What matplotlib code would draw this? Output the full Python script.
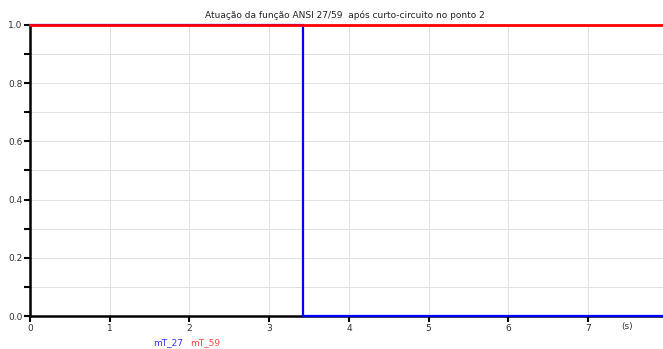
import matplotlib
matplotlib.use("Agg")
import matplotlib.pyplot as plt
from matplotlib.ticker import MultipleLocator

# Trip signals of the ANSI 27/59 functions
t_27 = [0.0, 3.425, 3.425, 8.0]
v_27 = [1.0, 1.0, 0.0, 0.0]
t_59 = [0.0, 8.0]
v_59 = [1.0, 1.0]

x_ticks = [0, 1, 2, 3, 4, 5, 6, 7]
y_ticks = [0.0, 0.2, 0.4, 0.6, 0.8, 1.0]

title = "Atuação da função ANSI 27/59  após curto-circuito no ponto 2"

plt.rcParams['font.family'] = ['DejaVu Sans']
fig = plt.figure(figsize=(6.63, 3.49), dpi=100)
ax = fig.add_axes([30/663, 33/349, 1 - 30/663, (316-25)/349])

ax.plot(t_27, v_27, color='#0000ff', lw=1.6, solid_joinstyle='miter', zorder=3, clip_on=False)
ax.plot(t_59, v_59, color='#ff0000', lw=2.0, zorder=4, clip_on=False)

ax.set_xlim(0, 7.94)
ax.set_ylim(0, 1.0)
ax.set_xticks(x_ticks)
ax.set_yticks(y_ticks)
ax.set_yticklabels([f"{v:.1f}" for v in y_ticks])
ax.yaxis.set_minor_locator(MultipleLocator(0.1))

ax.grid(True, which='both', color='#e2e2e2', lw=0.7)
ax.set_axisbelow(True)

for s in ['top', 'right']:
    ax.spines[s].set_visible(False)
for s in ['left', 'bottom']:
    ax.spines[s].set_color('black')
    ax.spines[s].set_linewidth(1.8)

ax.tick_params(axis='both', which='major', length=4, width=1.5, color='black',
               labelsize=6.5, labelcolor='#333333', pad=1.5)
ax.tick_params(axis='y', which='minor', length=4, width=1.5, color='black')

fig.text(345/663, 1 - 15/349, title, ha='center', va='center', fontsize=6.5, color='#222222')
fig.text(627/663, 1 - 327/349, "(s)", ha='center', va='center', fontsize=6.5, color='#333333')
fig.text(153/663, 1 - 343/349, "mT_27", ha='left', va='center', fontsize=6.5, color='#3333ff')
fig.text(190/663, 1 - 343/349, "mT_59", ha='left', va='center', fontsize=6.5, color='#ff4444')

fig.savefig("out.png", dpi=100)
